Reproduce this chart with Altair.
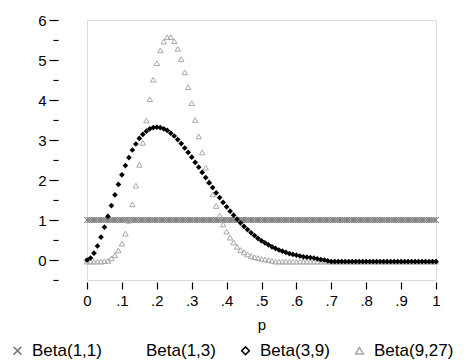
import altair as alt
import pandas as pd

# ---- data ----
series_names = ["Beta(1,1)", "Beta(1,3)", "Beta(3,9)", "Beta(9,27)"]

p_fine = [i / 200 for i in range(201)]          # grid of the dense Beta(1,1) band
beta11 = [1.0] * 201

p_grid = [i / 100 for i in range(101)]
beta39 = [0.00, 0.05, 0.17, 0.35, 0.57, 0.82, 1.09, 1.36, 1.63, 1.89,
          2.13, 2.36, 2.56, 2.75, 2.90, 3.04, 3.14, 3.22, 3.28, 3.31,
          3.32, 3.31, 3.28, 3.24, 3.17, 3.10, 3.01, 2.91, 2.80, 2.69,
          2.57, 2.44, 2.32, 2.19, 2.06, 1.93, 1.81, 1.68, 1.56, 1.44,
          1.33, 1.22, 1.12, 1.02, 0.93, 0.84, 0.76, 0.68, 0.61, 0.54,
          0.48, 0.43, 0.38, 0.33, 0.29, 0.25, 0.22, 0.19, 0.16, 0.14,
          0.12, 0.10, 0.08, 0.07, 0.06, 0.05, 0.03, 0.01, 0.00, -0.02,
          -0.04, -0.04, -0.04, -0.04, -0.04, -0.04, -0.04, -0.04, -0.04, -0.04,
          -0.04, -0.04, -0.04, -0.04, -0.04, -0.04, -0.04, -0.04, -0.04, -0.04,
          -0.04, -0.04, -0.04, -0.04, -0.04, -0.04, -0.04, -0.04, -0.04, -0.04,
          -0.04]
beta927 = [-0.04, -0.04, -0.04, -0.04, -0.04, -0.03, -0.02, 0.04, 0.12, 0.24,
           0.41, 0.66, 0.98, 1.39, 1.86, 2.38, 2.93, 3.49, 4.02, 4.51,
           4.92, 5.24, 5.46, 5.57, 5.57, 5.47, 5.28, 5.02, 4.69, 4.32,
           3.92, 3.50, 3.09, 2.69, 2.31, 1.96, 1.64, 1.35, 1.11, 0.89,
           0.71, 0.56, 0.44, 0.33, 0.25, 0.19, 0.14, 0.10, 0.07, 0.05,
           0.03, 0.01, 0.00, -0.02, -0.04, -0.04, -0.04, -0.04, -0.04, -0.04,
           -0.04, -0.04, -0.04, -0.04, -0.04, -0.04, -0.04, -0.04, -0.04, -0.04,
           -0.04, -0.04, -0.04, -0.04, -0.04, -0.04, -0.04, -0.04, -0.04, -0.04,
           -0.04, -0.04, -0.04, -0.04, -0.04, -0.04, -0.04, -0.04, -0.04, -0.04,
           -0.04, -0.04, -0.04, -0.04, -0.04, -0.04, -0.04, -0.04, -0.04, -0.04,
           -0.04]

x_ticks = [0, 0.1, 0.2, 0.3, 0.4, 0.5, 0.6, 0.7, 0.8, 0.9, 1]
y_ticks = [-0.5, 0, 0.5, 1, 1.5, 2, 2.5, 3, 3.5, 4, 4.5, 5, 5.5, 6]

df11 = pd.DataFrame({"p": p_fine, "density": beta11, "series": "Beta(1,1)"})
df39 = pd.DataFrame({"p": p_grid, "density": beta39, "series": "Beta(3,9)"})
df927 = pd.DataFrame({"p": p_grid, "density": beta927, "series": "Beta(9,27)"})

shapes = ["M-1,-1L1,1M-1,1L1,-1", "circle", "diamond", "triangle-up"]
colors = ["#7a7a7a", "#ffffff", "#000000", "#a8a8a8"]

FONT = "Liberation Sans"

legend_cfg = dict(title=None, orient="none", legendX=-78, legendY=322,
                  direction="horizontal", columns=4, columnPadding=21,
                  labelFont=FONT, labelFontSize=17, labelColor="black",
                  symbolSize=60, symbolStrokeWidth=1.5, labelOffset=6,
                  padding=0)

x_enc = alt.X("p:Q",
              scale=alt.Scale(domain=[0, 1], nice=False, zero=False),
              axis=alt.Axis(values=x_ticks,
                            labelExpr="datum.value == 0 ? '0' : datum.value == 1 ? '1' : replace(format(datum.value, '.1f'), '0.', '.')",
                            domain=False, grid=False, tickSize=7, offset=2,
                            tickColor="black", tickWidth=1.2,
                            labelFlush=False, labelOverlap=False, labelBound=False,
                            labelFont=FONT, labelFontSize=15, labelColor="black",
                            labelPadding=4,
                            title="p", titleFont=FONT, titleFontSize=15,
                            titleFontWeight="normal", titleColor="black",
                            titlePadding=9))
y_enc = alt.Y("density:Q",
              scale=alt.Scale(domain=[-0.5, 6], nice=False, zero=False),
              axis=alt.Axis(values=y_ticks,
                            labelExpr="datum.value % 1 == 0 ? datum.value : ''",
                            domain=False, grid=False, offset=29,
                            tickSize={"condition": {"test": "datum.value % 1 != 0", "value": 5}, "value": 9},
                            tickColor="black", tickWidth=1.2,
                            labelFlush=False, labelOverlap=False, labelBound=False,
                            labelFont=FONT, labelFontSize=15, labelColor="black",
                            labelPadding=3, title=None))
shape_enc = alt.Shape("series:N", scale=alt.Scale(domain=series_names, range=shapes),
                      legend=alt.Legend(**legend_cfg))
color_enc = alt.Color("series:N", scale=alt.Scale(domain=series_names, range=colors),
                      legend=alt.Legend(**legend_cfg))


def layer(data, size, sw):
    return alt.Chart(data).mark_point(filled=False, opacity=1, size=size, strokeWidth=sw).encode(
        x=x_enc, y=y_enc, shape=shape_enc, color=color_enc)


# first layer draws nothing; it only sets how the legend symbols look
legend_layer = layer(df39, 60, 1.5).transform_filter("datum.density > 100")

chart = alt.layer(
    legend_layer,
    layer(df11, 36, 1.0),
    layer(df927, 30, 1.0),
    layer(df39, 6, 2.3),
).properties(
    width=349, height=260,
    autosize=alt.AutoSizeParams(type="none"),
    padding={"left": 79, "top": 12, "right": 21, "bottom": 80},
).configure_view(
    stroke="black", strokeWidth=1.5
).configure(background="white")

chart.save("out.html", embed_options={"renderer": "svg", "actions": False})
